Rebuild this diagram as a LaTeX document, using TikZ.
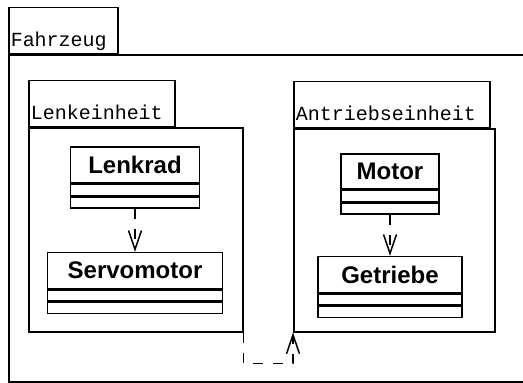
\documentclass[tikz,border=0pt]{standalone}
\usepackage{fontspec}
\newfontfamily\pkgfont{Liberation Mono}
\newfontfamily\clsfont{Liberation Sans}
\usepackage{tikz}
\usetikzlibrary{positioning}
\usetikzlibrary{arrows.meta}
\tikzset{x=1pt, y=-1pt,      % one unit is one pixel of the picture, y downwards
         pkgtab/.style={      % tab of a package, name sits low
           draw, line width=1.5pt,
           anchor=south west,
           inner xsep=2pt, inner ysep=0pt,
           text height=39pt, text depth=7pt,
           align=left,
           font=\pkgfont\fontsize{20}{24}\selectfont},
         pkgbody/.style={     % body of a package, hangs below its tab
           draw, line width=1.5pt,
           anchor=north west,
           inner sep=0pt},
         clsname/.style={     % name compartment of a class
           draw, line width=1.5pt,
           minimum height=36pt, inner sep=0pt,
           font=\clsfont\bfseries\fontsize{24}{28}\selectfont},
         clspart/.style={     % empty compartments of a class
           draw, line width=1.5pt,
           minimum height=11pt, inner sep=0pt},
         dep/.style={         % dependency, dashed with open head
           line width=1.5pt,
           dash pattern=on 10pt off 10pt,
           -{Straight Barb[length=19pt, width=13pt]}}}

\begin{document}
\begin{tikzpicture}
      \useasboundingbox (0,0) rectangle (523,383);

      % packages
      \node[pkgtab, text width=105pt] (fahrzeugTab) at (8,54) {Fahrzeug};
      \node[pkgbody, minimum width=527pt, minimum height=327pt] (fahrzeug) at (fahrzeugTab.south west) {};

      \node[pkgtab, text width=142pt] (lenkTab) at (28,127) {Lenkeinheit};
      \node[pkgbody, minimum width=214pt, minimum height=204pt] (lenk) at (lenkTab.south west) {};

      \node[pkgtab, text width=192pt] (antrTab) at (293,128) {Antriebseinheit};
      \node[pkgbody, minimum width=201pt, minimum height=203pt] (antr) at (antrTab.south west) {};

      % classes in Lenkeinheit
      \node[clsname, minimum width=129pt] (lenkrad) at (135,165) {Lenkrad};
      \node[clspart, minimum width=129pt, below=0pt of lenkrad] (lenkradA) {};
      \node[clspart, minimum width=129pt, below=0pt of lenkradA] (lenkradB) {};

      \node[clsname, minimum width=175pt, below=43pt of lenkradB] (servo) {Servomotor};
      \node[clspart, minimum width=175pt, below=0pt of servo] (servoA) {};
      \node[clspart, minimum width=175pt, below=0pt of servoA] (servoB) {};

      % classes in Antriebseinheit
      \node[clsname, minimum width=98pt, minimum height=35pt] (motor) at (390,171.5) {Motor};
      \node[clspart, minimum width=98pt, below=0pt of motor] (motorA) {};
      \node[clspart, minimum width=98pt, below=0pt of motorA] (motorB) {};

      \node[clsname, minimum width=144pt, below=41pt of motorB] (getriebe) {Getriebe};
      \node[clspart, minimum width=144pt, below=0pt of getriebe] (getriebeA) {};
      \node[clspart, minimum width=144pt, below=0pt of getriebeA] (getriebeB) {};

      % dependencies
      \draw[dep] (lenkradB) -- (servo);
      \draw[dep] (motorB) -- (getriebe);
      \draw[dep] (lenk.south east) -- ++(0,31) -| (antr.south west);

    \end{tikzpicture}
\end{document}
